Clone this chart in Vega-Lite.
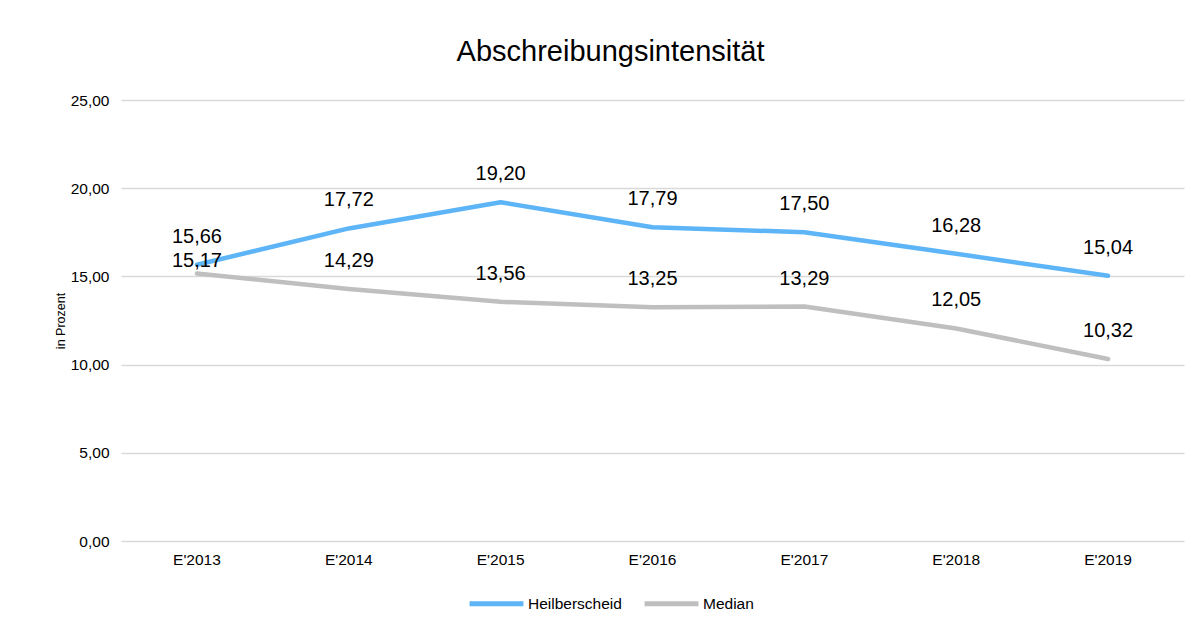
{
  "$schema": "https://vega.github.io/schema/vega-lite/v6.json",
  "autosize": {"type": "none"},
  "width": 1063,
  "height": 441,
  "padding": {"left": 121, "top": 100, "right": 14, "bottom": 83},
  "background": "white",
  "title": {"text": "Abschreibungsintensität", "font": "Liberation Sans", "fontSize": 29, "fontWeight": "normal", "color": "#000000", "anchor": "middle", "dx": -42, "offset": 26},
  "config": {
    "locale": {"number": {"decimal": ",", "thousands": ".", "grouping": [3], "currency": ["", " €"]}},
    "view": {"stroke": null},
    "font": "Liberation Sans"
  },
  "data": {"values": [
    {"jahr": "E'2013", "serie": "Heilberscheid", "wert": 15.66},
    {"jahr": "E'2014", "serie": "Heilberscheid", "wert": 17.72},
    {"jahr": "E'2015", "serie": "Heilberscheid", "wert": 19.20},
    {"jahr": "E'2016", "serie": "Heilberscheid", "wert": 17.79},
    {"jahr": "E'2017", "serie": "Heilberscheid", "wert": 17.50},
    {"jahr": "E'2018", "serie": "Heilberscheid", "wert": 16.28},
    {"jahr": "E'2019", "serie": "Heilberscheid", "wert": 15.04},
    {"jahr": "E'2013", "serie": "Median", "wert": 15.17},
    {"jahr": "E'2014", "serie": "Median", "wert": 14.29},
    {"jahr": "E'2015", "serie": "Median", "wert": 13.56},
    {"jahr": "E'2016", "serie": "Median", "wert": 13.25},
    {"jahr": "E'2017", "serie": "Median", "wert": 13.29},
    {"jahr": "E'2018", "serie": "Median", "wert": 12.05},
    {"jahr": "E'2019", "serie": "Median", "wert": 10.32}
  ]},
  "encoding": {
    "x": {"field": "jahr", "type": "nominal", "sort": null,
      "scale": {"type": "band", "paddingInner": 0, "paddingOuter": 0},
      "axis": {"title": null, "labelAngle": 0, "labelFontSize": 15.5, "labelColor": "#000000", "ticks": false, "domain": false, "grid": false, "labelPadding": 11}},
    "y": {"field": "wert", "type": "quantitative",
      "scale": {"domain": [0, 25]},
      "axis": {"title": "in Prozent", "titleFontSize": 12.5, "titleFontWeight": "normal", "titleColor": "#000000", "titlePadding": 3,
        "values": [0, 5, 10, 15, 20, 25], "format": ".2f", "labelFontSize": 15.5, "labelColor": "#000000",
        "ticks": false, "domain": false, "grid": true, "gridColor": "#D9D9D9", "gridWidth": 1.3, "labelPadding": 12}}
  },
  "layer": [
    {
      "mark": {"type": "line", "strokeWidth": 4.5, "strokeCap": "round", "strokeJoin": "round"},
      "encoding": {
        "color": {"field": "serie", "type": "nominal",
          "scale": {"domain": ["Heilberscheid", "Median"], "range": ["#5DB5F7", "#BFBFBF"]},
          "legend": {"title": null, "orient": "none", "legendX": 346, "legendY": 474, "direction": "horizontal",
            "symbolType": "stroke", "symbolSize": 2900, "symbolStrokeWidth": 5, "labelFontSize": 15.5, "labelColor": "#000000",
            "labelOffset": 2, "columnPadding": 12}}
      }
    },
    {
      "transform": [{"filter": "!(datum.serie === 'Median' && datum.jahr === \"E'2013\")"}],
      "mark": {"type": "text", "fontSize": 20, "baseline": "bottom", "dy": -18, "color": "#000000"},
      "encoding": {"text": {"field": "wert", "type": "quantitative", "format": ".2f"}}
    },
    {
      "transform": [{"filter": "datum.serie === 'Median' && datum.jahr === \"E'2013\""}],
      "mark": {"type": "text", "fontSize": 20, "baseline": "bottom", "dy": -2, "color": "#000000"},
      "encoding": {"text": {"field": "wert", "type": "quantitative", "format": ".2f"}}
    }
  ]
}
